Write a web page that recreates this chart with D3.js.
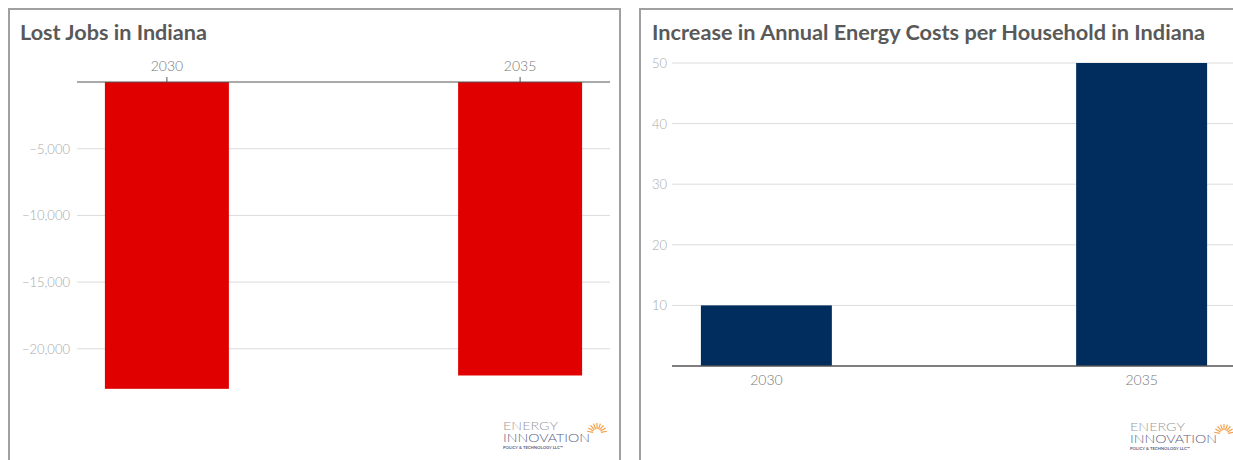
<!DOCTYPE html>
<html>
<head>
<meta charset="utf-8">
<script src="https://cdn.jsdelivr.net/npm/d3@7"></script>
<style>
  body { margin: 0; background: #fff; }
  svg { display: block; font-family: 'Lato', 'Open Sans', sans-serif; }
</style>
</head>
<body>
<div id="canvas"></div>
<script>
// data
var years = ['2030', '2035'];
var lostJobs = [-23000, -22000];
var energyCosts = [10, 50];
var jobTicks = [-5000, -10000, -15000, -20000];
var costTicks = [10, 20, 30, 40, 50];

var W = 1233, H = 460;

var svg = d3.select('#canvas').append('svg')
    .attr('width', W)
    .attr('height', H);

// panel frames
svg.append('rect')
    .attr('x', 9).attr('y', 9).attr('width', 611).attr('height', 470)
    .style('fill', 'none').style('stroke', '#a0a0a0').style('stroke-width', 2);
svg.append('rect')
    .attr('x', 640).attr('y', 9).attr('width', 620).attr('height', 470)
    .style('fill', 'none').style('stroke', '#a0a0a0').style('stroke-width', 2);

function title(x, w, txt) {
  svg.append('text')
      .attr('x', x).attr('y', 40)
      .attr('textLength', w).attr('lengthAdjust', 'spacingAndGlyphs')
      .style('font-size', '20px').style('font-weight', 'bold')
      .style('fill', '#595959')
      .text(txt);
}
title(20, 187, 'Lost Jobs in Indiana');
title(652, 553, 'Increase in Annual Energy Costs per Household in Indiana');

// ---- left chart: lost jobs
var x1 = d3.scaleBand().domain(years).range([77, 610])
    .paddingInner(0.649).paddingOuter(0.079);
var y1 = d3.scaleLinear().domain([0, -5000]).range([82, 148.7]);

var g1 = svg.append('g');

g1.selectAll('.grid1').data(jobTicks).enter()
  .append('line')
    .attr('x1', 77).attr('x2', 610)
    .attr('y1', function(d){ return y1(d); })
    .attr('y2', function(d){ return y1(d); })
    .style('stroke', '#dcdcdc').style('stroke-width', 1);

g1.selectAll('.ylab1').data(jobTicks).enter()
  .append('text')
    .attr('x', 70)
    .attr('y', function(d){ return y1(d) + 5; })
    .attr('text-anchor', 'end')
    .style('font-size', '13px').style('font-weight', 300).style('fill', '#a8a8a8')
    .text(function(d){ return '\u2212' + d3.format(',')(-d); });

g1.selectAll('.bar1').data(lostJobs).enter()
  .append('rect')
    .attr('x', function(d, i){ return x1(years[i]); })
    .attr('y', y1(0))
    .attr('width', x1.bandwidth())
    .attr('height', function(d){ return y1(d) - y1(0); })
    .style('fill', '#e00000');

var ax1 = g1.append('g')
    .attr('transform', 'translate(0,' + y1(0) + ')')
    .call(d3.axisTop(x1).tickSize(5).tickPadding(6));
ax1.select('.domain').attr('d', 'M77,0H610').style('stroke', '#555');
ax1.selectAll('.tick line').style('stroke', '#555');
ax1.selectAll('.tick text')
    .style('font-size', '14px').style('font-weight', 300).style('fill', '#777')
    .style('font-family', "'Lato', 'Open Sans', sans-serif");

// ---- right chart: energy costs
var x2 = d3.scaleBand().domain(years).range([672, 1236])
    .paddingInner(0.651).paddingOuter(0.077);
var y2 = d3.scaleLinear().domain([0, 50]).range([366, 63]);

var g2 = svg.append('g');

g2.selectAll('.grid2').data(costTicks).enter()
  .append('line')
    .attr('x1', 672).attr('x2', W)
    .attr('y1', function(d){ return y2(d); })
    .attr('y2', function(d){ return y2(d); })
    .style('stroke', '#dcdcdc').style('stroke-width', 1);

g2.selectAll('.ylab2').data(costTicks).enter()
  .append('text')
    .attr('x', 667)
    .attr('y', function(d){ return y2(d) + 5; })
    .attr('text-anchor', 'end')
    .style('font-size', '13px').style('font-weight', 300).style('fill', '#a8a8a8')
    .text(function(d){ return d; });

g2.selectAll('.bar2').data(energyCosts).enter()
  .append('rect')
    .attr('x', function(d, i){ return x2(years[i]); })
    .attr('y', function(d){ return y2(d); })
    .attr('width', x2.bandwidth())
    .attr('height', function(d){ return y2(0) - y2(d); })
    .style('fill', '#002d5e');

var ax2 = g2.append('g')
    .attr('transform', 'translate(0,' + y2(0) + ')')
    .call(d3.axisBottom(x2).tickSize(0).tickPadding(9));
ax2.select('.domain').attr('d', 'M672,0H' + W).style('stroke', '#555').style('stroke-width', 1.5);
ax2.selectAll('.tick text')
    .style('font-size', '14px').style('font-weight', 300).style('fill', '#777')
    .style('font-family', "'Lato', 'Open Sans', sans-serif");

// ---- logos
function logo(x, y) {
  var g = svg.append('g').attr('transform', 'translate(' + x + ',' + y + ')');
  g.append('text').attr('x', 0).attr('y', 0)
      .attr('textLength', 55).attr('lengthAdjust', 'spacingAndGlyphs')
      .style('font-size', '11px').style('font-weight', 300).style('fill', '#9a9a9a')
      .text('ENERGY');
  g.append('text').attr('x', 0).attr('y', 12)
      .attr('textLength', 87).attr('lengthAdjust', 'spacingAndGlyphs')
      .style('font-size', '11px').style('font-weight', 300).style('fill', '#5b6180')
      .text('INNOVATION');
  g.append('text').attr('x', 0).attr('y', 19)
      .attr('textLength', 60).attr('lengthAdjust', 'spacingAndGlyphs')
      .style('font-size', '4px').style('font-weight', 'bold').style('fill', '#5b6180')
      .text('POLICY & TECHNOLOGY LLC\u2122');
  var rays = d3.range(-80, 90, 20);
  g.selectAll('.ray').data(rays).enter()
    .append('line')
      .attr('x1', function(a){ return 94 + 4 * Math.sin(a * Math.PI / 180); })
      .attr('y1', function(a){ return 3 - 4 * Math.cos(a * Math.PI / 180); })
      .attr('x2', function(a){ return 94 + 10 * Math.sin(a * Math.PI / 180); })
      .attr('y2', function(a){ return 3 - 10 * Math.cos(a * Math.PI / 180); })
      .style('stroke', '#f5a04a').style('stroke-width', 1.2);
}
logo(503, 430);
logo(1130, 431);
</script>
</body>
</html>
